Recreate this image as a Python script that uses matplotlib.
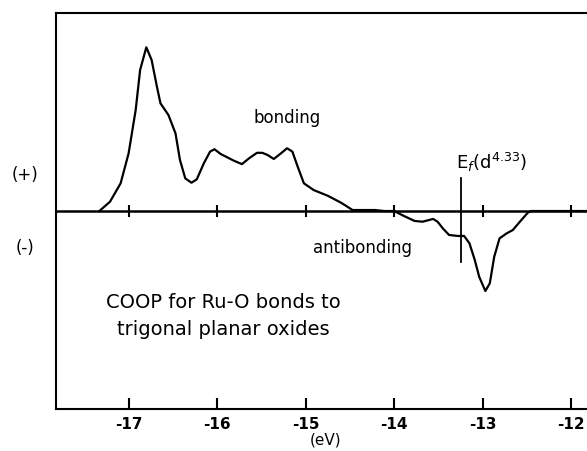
import numpy as np
import matplotlib.pyplot as plt

# COOP curve for Ru-O bonds
energy = [-17.33, -17.21, -17.09, -17.00, -16.92, -16.87, -16.80, -16.74, -16.68,
          -16.64, -16.55, -16.47, -16.42, -16.36, -16.29, -16.23, -16.15, -16.08,
          -16.03, -15.96, -15.81, -15.72, -15.64, -15.55, -15.49, -15.43, -15.36,
          -15.28, -15.21, -15.15, -15.09, -15.02, -14.91, -14.75, -14.60, -14.47,
          -14.22, -14.11, -14.00, -13.89, -13.77, -13.68, -13.56, -13.51, -13.45,
          -13.38, -13.28, -13.21, -13.15, -13.09, -13.04, -12.97, -12.92, -12.87,
          -12.81, -12.73, -12.66, -12.58, -12.49, -12.45, -11.70]
coop = [0.0, 0.047, 0.14, 0.291, 0.51, 0.712, 0.827, 0.763, 0.628,
        0.544, 0.485, 0.392, 0.258, 0.165, 0.143, 0.16, 0.241, 0.30,
        0.312, 0.288, 0.254, 0.237, 0.266, 0.294, 0.294, 0.283, 0.263,
        0.291, 0.317, 0.30, 0.224, 0.14, 0.106, 0.077, 0.042, 0.005,
        0.005, 0.0, 0.0, -0.025, -0.05, -0.054, -0.04, -0.054, -0.088,
        -0.121, -0.126, -0.126, -0.163, -0.247, -0.332, -0.404, -0.365, -0.231,
        -0.138, -0.113, -0.096, -0.054, -0.008, 0.0, 0.0]

xticks = [-17, -16, -15, -14, -13, -12]
xticklabels = ['-17', '-16', '-15', '-14', '-13', '-12']
fermi = -13.245
fermi_span = [0.168, -0.256]

fig = plt.figure(figsize=(5.87, 4.51), dpi=100)
ax = fig.add_axes([0.0954, 0.0931, 0.92, 0.878])

ax.plot(energy, coop, color='black', lw=1.6, solid_joinstyle='round')
ax.axhline(0, color='black', lw=1.8)
# small cross ticks on the zero line
ax.plot(xticks, [0] * len(xticks), ls='none', marker='|', ms=9, mew=1.5, color='black')
# Fermi level marker
ax.plot([fermi, fermi], fermi_span, color='black', lw=1.3)

ax.set_xlim(-17.82, -11.72)
ax.set_ylim(-1, 1)
ax.set_xticks(xticks)
ax.set_xticklabels(xticklabels, fontsize=11, fontweight='bold')
ax.tick_params(axis='x', direction='in', length=8, width=1.5, pad=6)
ax.set_yticks([])
ax.spines['right'].set_visible(False)
for s in ['left', 'top', 'bottom']:
    ax.spines[s].set_linewidth(1.5)
ax.set_xlabel('(eV)', fontsize=11, labelpad=0)

ax.text(-15.21, 0.468, 'bonding', fontsize=12, ha='center', va='center')
ax.text(-14.36, -0.189, 'antibonding', fontsize=12, ha='center', va='center')
ax.text(-12.90, 0.245, r'E$_f$(d$^{4.33}$)', fontsize=13, ha='center', va='center')
ax.text(-17.25, -0.46, 'COOP for Ru-O bonds to', fontsize=14, ha='left', va='center')
ax.text(-17.13, -0.60, 'trigonal planar oxides', fontsize=14, ha='left', va='center')

fig.text(0.042, (451 - 175) / 451, '(+)', fontsize=12, ha='center', va='center')
fig.text(0.042, (451 - 248) / 451, '(-)', fontsize=12, ha='center', va='center')

fig.savefig('out.png', dpi=100)
